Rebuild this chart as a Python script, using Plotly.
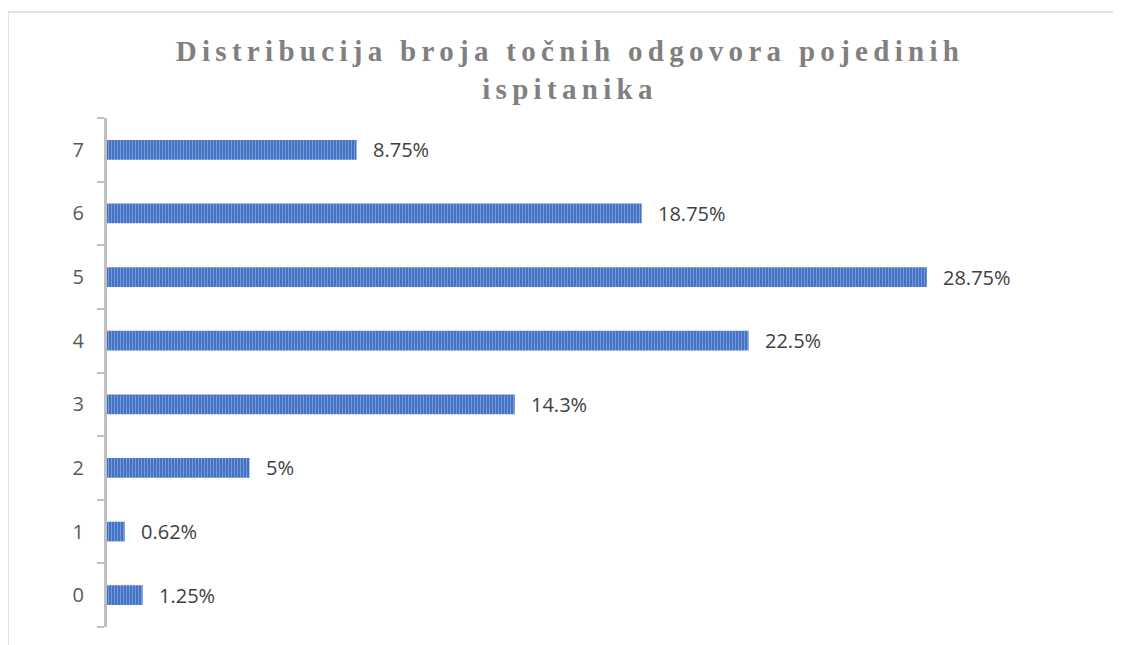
import plotly.graph_objects as go

categories = ["0", "1", "2", "3", "4", "5", "6", "7"]
values = [1.25, 0.62, 5, 14.3, 22.5, 28.75, 18.75, 8.75]
labels = ["1.25%", "0.62%", "5%", "14.3%", "22.5%", "28.75%", "18.75%", "8.75%"]
title_line1 = "Distribucija broja točnih odgovora pojedinih"
title_line2 = "ispitanika"

W, H = 1113, 637
L, R, T, B = 99, 16, 110, 18

fig = go.Figure()
fig.add_trace(go.Bar(
    x=values, y=categories, orientation="h",
    marker=dict(color="#4472C4", line=dict(width=0),
                pattern=dict(shape="|", fgcolor="#A9BFE8", size=3, solidity=0.35)),
    width=0.31, hoverinfo="skip",
))

for v, c, t in zip(values, categories, labels):
    fig.add_annotation(x=v, y=c, text=t, showarrow=False, xanchor="left",
                       xshift=14, font=dict(family="Open Sans, Liberation Sans", size=20, color="#404040"))

pw = W - L - R
ph = H - T - B
def px(xp): return (xp - L) / pw
def py(yp): return (H - B - yp) / ph

fig.add_shape(type="rect", xref="paper", yref="paper",
              x0=px(0), x1=px(W + 40), y0=py(H + 40), y1=py(4),
              line=dict(color="#D9D9D9", width=1.5), fillcolor="rgba(0,0,0,0)", layer="below")

sp = '<span style="letter-spacing:5.3px">'
fig.update_layout(
    width=W, height=H,
    margin=dict(l=L, r=R, t=T, b=B),
    paper_bgcolor="white", plot_bgcolor="white",
    showlegend=False,
    title=dict(text=sp + title_line1 + "</span><br>" + sp + title_line2 + "</span>",
               x=562 / W, xanchor="center", xref="container",
               y=1 - 53 / H, yanchor="top", yref="container",
               font=dict(family="Liberation Serif", size=29, color="#808080", weight="bold")),
    xaxis=dict(range=[0, 35], visible=False, showgrid=False, zeroline=False),
    yaxis=dict(type="category", categoryorder="array", categoryarray=categories,
               range=[-0.5, 7.5],
               showline=True, linecolor="#BFBFBF", linewidth=3,
               ticks="outside", tickson="boundaries", ticklen=7, tickcolor="#BFBFBF", tickwidth=2,
               showgrid=False, zeroline=False,
               tickfont=dict(family="Open Sans, Liberation Sans", size=20, color="#595959"),
               ticklabelstandoff=16),
)

fig.write_html("out.html")
